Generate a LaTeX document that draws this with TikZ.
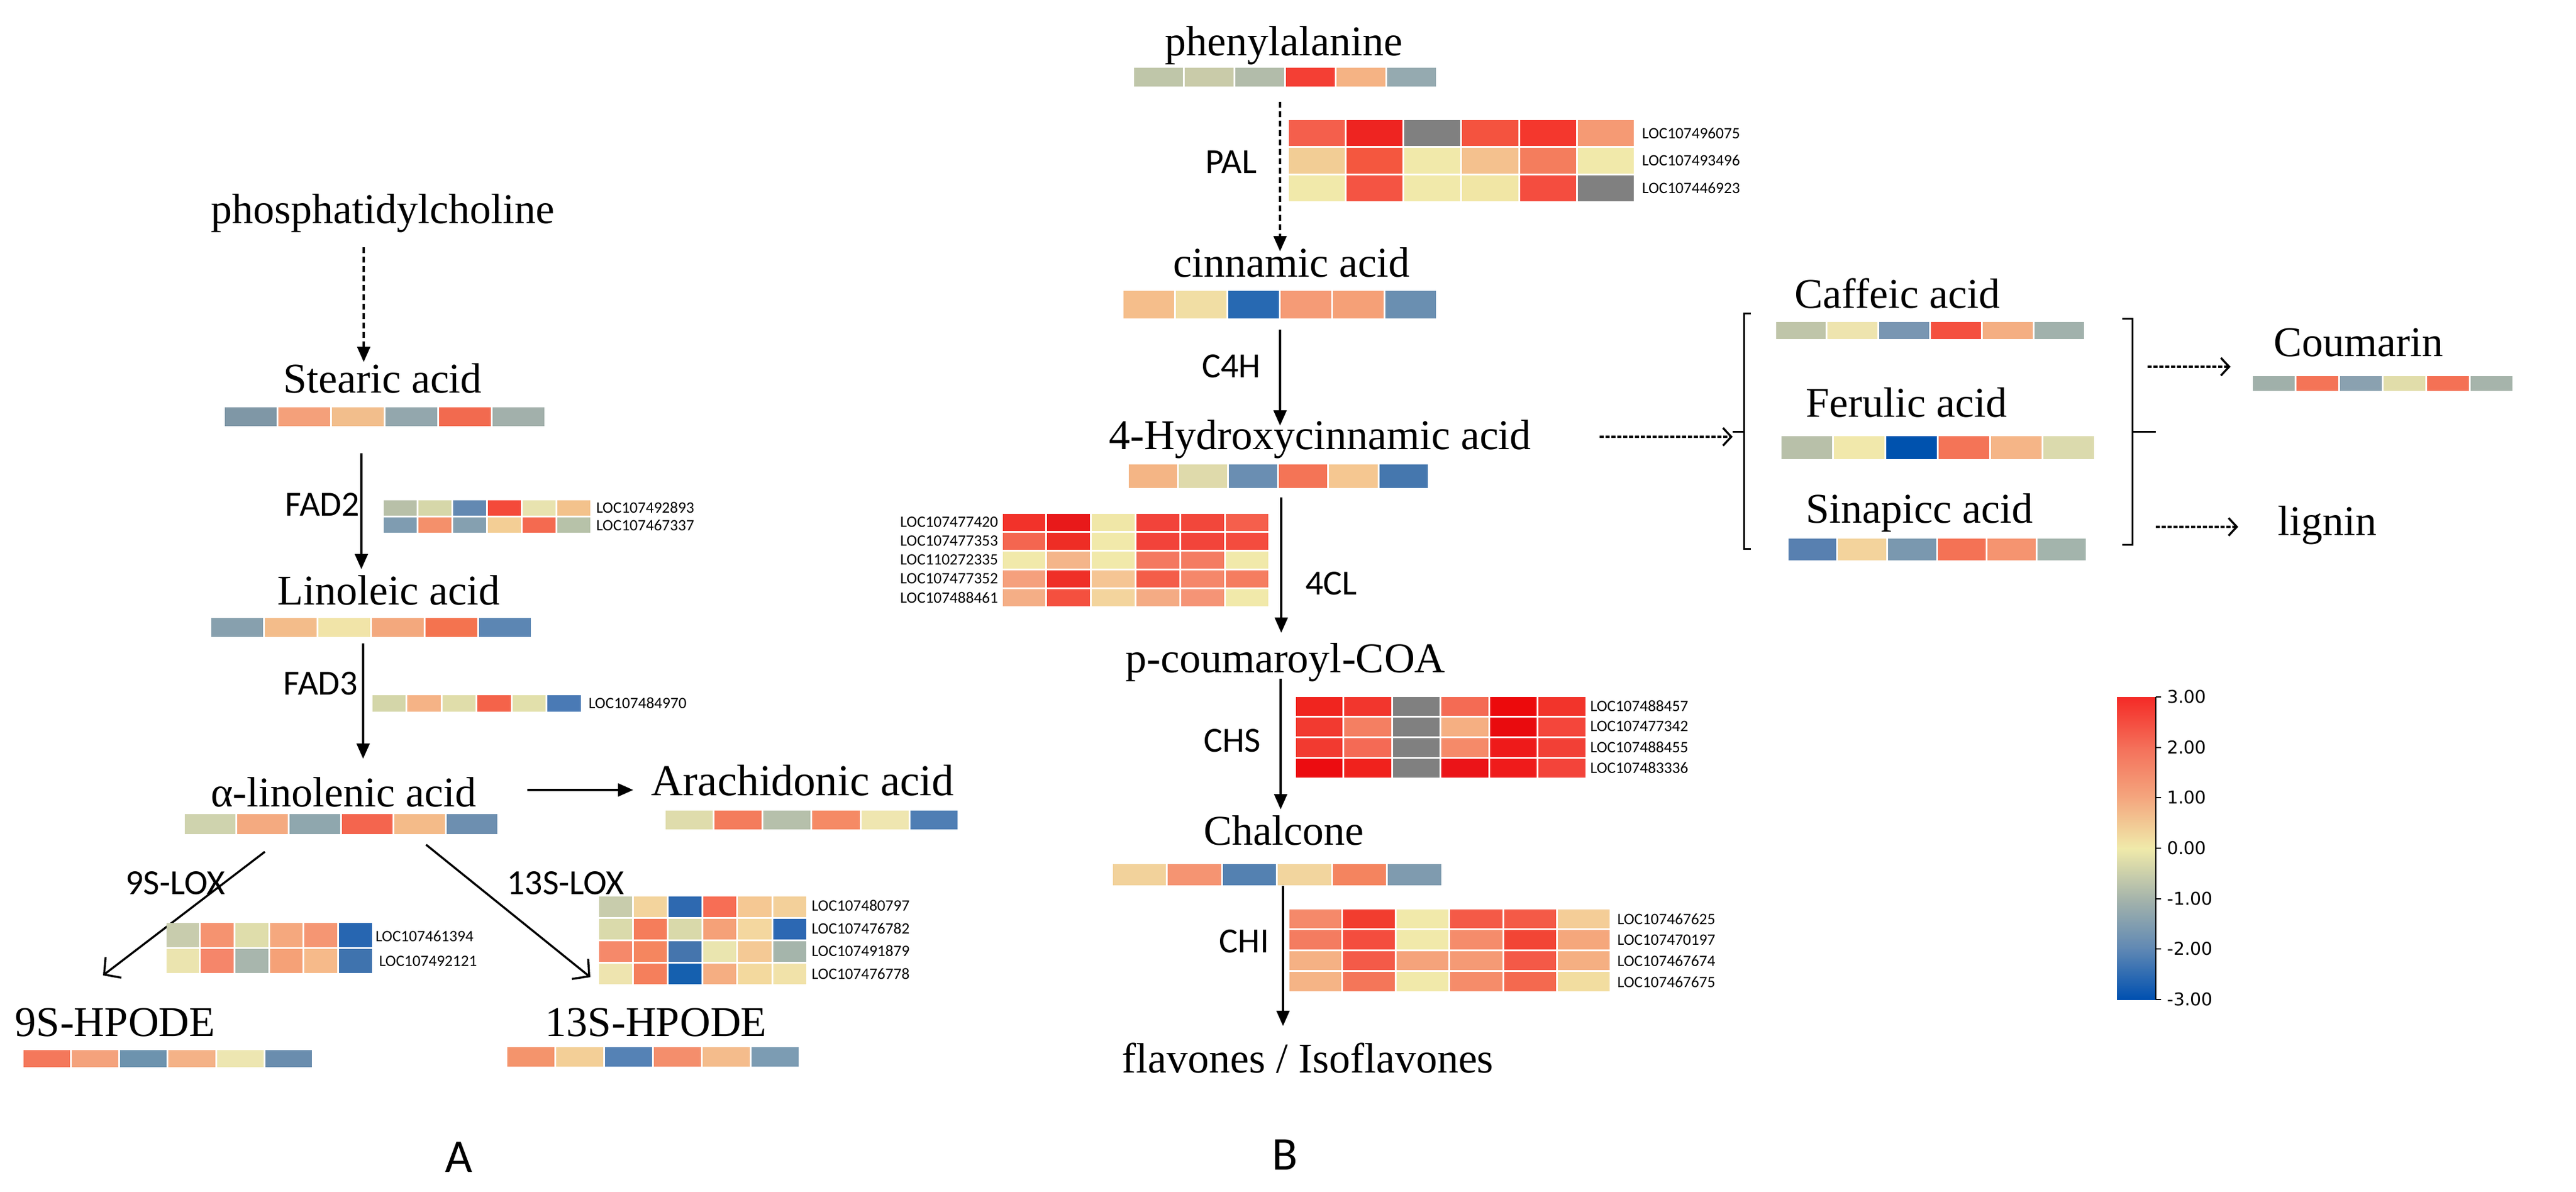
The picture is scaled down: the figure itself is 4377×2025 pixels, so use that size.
\documentclass[tikz,border=0pt]{standalone}
\usepackage{fontspec}
\setmainfont{Liberation Serif}
\newfontfamily\sansf{Carlito}
\newfontfamily\cbf{DejaVu Sans}
\usetikzlibrary{arrows.meta}
\newcommand\hmrow[5]{%
  \foreach \hc [count=\hi from 0] in {#5}{%
    \edef\hmtmp{\noexpand\definecolor{hmc}{HTML}{\hc}}\hmtmp
    \fill[hmc] ({#1+\hi*(#3)+1.5},{#2+1.5}) rectangle ({#1+(\hi+1)*(#3)-1.5},{#2+#4-1.5});
  }%
}
\definecolor{cA}{HTML}{F42A26}
\definecolor{cB}{HTML}{F4705A}
\definecolor{cC}{HTML}{F4A67E}
\definecolor{cD}{HTML}{F0EAAA}
\definecolor{cE}{HTML}{A5B4AB}
\definecolor{cF}{HTML}{5F88B4}
\definecolor{cG}{HTML}{0050B0}
\tikzset{
  met/.style={font=\fontsize{72}{80}\selectfont, inner sep=0pt, anchor=base},
  enz/.style={font=\sansf\fontsize{60}{66}\selectfont, inner sep=0pt},
  loc/.style={font=\sansf\fontsize{27}{30}\selectfont, inner sep=0pt, anchor=west},
  panel/.style={font=\sansf\fontsize{80}{88}\selectfont, inner sep=0pt},
  cbl/.style={font=\cbf\fontsize{30}{33}\selectfont, inner sep=0pt, anchor=west},
  arr/.style={line width=3.5pt, -{Triangle[length=26pt,width=22pt]}},
  darr/.style={arr, dash pattern=on 10pt off 6pt},
  lox/.style={line width=3.5pt, -{Straight Barb[length=20pt,width=44pt]}},
  odash/.style={line width=3.5pt, dash pattern=on 7pt off 3pt, -{Straight Barb[length=14pt,width=30pt]}},
}
\begin{document}
\begin{tikzpicture}[x=1pt,y=-1pt]
\fill[white] (0,0) rectangle (4377,2025);
\useasboundingbox (0,0) rectangle (4377,2025);

% ================= Panel A =================
\node[met] (phos) at (650,380) {phosphatidylcholine};
\node[met] (stear) at (650,667) {Stearic acid};
\hmrow{380}{690}{91}{35}{7F97A6,F4A07A,F2BE8C,93A7AD,F26A4F,A2B0AB}
\coordinate (a1s) at (618,420); \coordinate (a1e) at (618,615);
\draw[darr] (a1s) -- (a1e);

\coordinate (a2s) at (614,770); \coordinate (a2e) at (614,967);
\draw[arr] (a2s) -- (a2e);
\node[enz] (fad2) at (548,857) {FAD2};
\hmrow{650}{848}{59}{29}{B8C0A8,D6D7A9,6389B2,F44A3A,E8E3AF,F3C28C}
\hmrow{650}{877}{59}{29}{7F9CB1,F4906B,85A0B0,F3CE95,F46A50,B7C2A9}
\node[loc] (g1) at (1013,862) {LOC107492893};
\node[loc] (g2) at (1013,892) {LOC107467337};

\node[met] (linol) at (660,1027) {Linoleic acid};
\hmrow{357}{1048}{91}{35}{87A0AE,F3BC8A,F1E4A8,F3A87D,F4734F,5C86B3}

\coordinate (a3s) at (617,1093); \coordinate (a3e) at (617,1289);
\draw[arr] (a3s) -- (a3e);
\node[enz] (fad3) at (545,1161) {FAD3};
\hmrow{631}{1179}{59.5}{31}{D4D6A9,F5B386,E0DDAA,F4634A,E2E0AB,4A7AB5}
\node[loc] (g3) at (1000,1194) {LOC107484970};

\node[met] (alin) at (584,1370) {α-linolenic acid};
\hmrow{312}{1381}{89}{37}{CFD3AE,F4AA80,8FA7AE,F4654E,F4BB89,6D8FB0}

\coordinate (a4s) at (896,1342); \coordinate (a4e) at (1076,1342);
\draw[arr] (a4s) -- (a4e);
\node[font=\fontsize{75}{82}\selectfont, inner sep=0pt, anchor=base] (arach) at (1364,1351) {Arachidonic acid};
\hmrow{1129}{1375}{83.3}{35}{DFDCAC,F47C5C,B6C0AB,F58A65,EFE6B0,4F7EB4}

\coordinate (a5s) at (450,1447); \coordinate (a5e) at (175,1657);
\draw[lox] (a5s) -- (a5e);
\coordinate (a6s) at (724,1435); \coordinate (a6e) at (1003,1660);
\draw[lox] (a6s) -- (a6e);
\node[enz] (lox9) at (298,1500) {9S-LOX};
\node[enz] (lox13) at (961,1500) {13S-LOX};

\hmrow{281}{1566}{58.7}{44}{C8CCAD,F59370,DFDDAB,F5A87E,F59673,2766B1}
\hmrow{281}{1610}{58.7}{44}{EBE4AF,F5866A,A8B6AD,F5A177,F6BA8A,3F73AE}
\node[loc] (g4) at (638,1590) {LOC107461394};
\node[loc] (g5) at (644,1633) {LOC107492121};

\hmrow{1016}{1521}{59.2}{38}{C8CCAC,F3D49D,2E69B0,F76E55,F5C893,F3D09A}
\hmrow{1016}{1559}{59.2}{38}{DADAAB,F57D5B,D9D9AA,F5A178,F4D79F,2C68B3}
\hmrow{1016}{1597}{59.2}{38}{F5896A,F5865F,4575AD,EAE5AF,F4C995,A5B5AB}
\hmrow{1016}{1635}{59.2}{38}{EEE4AF,F57F5C,1560AF,F5AE82,F3D99E,F1E2A9}
\node[loc] (g6) at (1379,1538) {LOC107480797};
\node[loc] (g7) at (1379,1577) {LOC107476782};
\node[loc] (g8) at (1379,1615) {LOC107491879};
\node[loc] (g9) at (1379,1654) {LOC107476778};

\node[met] (hp9) at (196,1760) {9S-HPODE};
\hmrow{38}{1782}{82.3}{32}{F4785B,F4A27C,6D93AE,F4B287,EDE6B1,6A8DAE}
\node[met] (hp13) at (1115,1760) {13S-HPODE};
\hmrow{860}{1777}{83}{36}{F4946C,F3CF97,5582B5,F48E6C,F4BC8C,7C9CB3}

\node[panel] (pA) at (780,1966) {A};

% ================= Panel B =================
\node[met] (phe) at (2181,95) {phenylalanine};
\hmrow{1925}{114}{86}{35}{BFC6A9,C9CBA9,B2BCAA,F43F34,F5B384,95AAB0}
\coordinate (b1s) at (2175,173); \coordinate (b1e) at (2175,427);
\draw[darr] (b1s) -- (b1e);
\node[enz] (pal) at (2092,275) {PAL};
\hmrow{2188}{203}{98.3}{46.7}{F45F4C,EE2421,808080,F4533F,F4372D,F59A74}
\hmrow{2188}{249.7}{98.3}{46.7}{F2CD95,F4573F,F1E9AA,F4C18E,F47D5D,F1E9AA}
\hmrow{2188}{296.4}{98.3}{46.7}{F1E9AA,F45443,F1E9AA,F1E6A5,F44D3F,808080}
\node[loc] (p1) at (2790,226) {LOC107496075};
\node[loc] (p2) at (2790,272) {LOC107493496};
\node[loc] (p3) at (2790,319) {LOC107446923};

\node[met] (cin) at (2194,470) {cinnamic acid};
\hmrow{1907}{492}{89}{50}{F5BE8B,F1DEA4,2769B2,F59B76,F5A077,6A8FB1}
\coordinate (b2s) at (2175,560); \coordinate (b2e) at (2175,723);
\draw[arr] (b2s) -- (b2e);
\node[enz] (c4h) at (2092,622) {C4H};

\node[met] (hyd) at (2243,763) {4-Hydroxycinnamic acid};
\hmrow{1916}{787}{85.2}{43}{F4B585,DFDAAB,6A8EB2,F47456,F5C791,4577AE}

\coordinate (b3s) at (2718,742); \coordinate (b3e) at (2944,742);
\draw[odash] (b3s) -- (b3e);

\coordinate (b4s) at (2177,845); \coordinate (b4e) at (2177,1075);
\draw[arr] (b4s) -- (b4e);
\node[enz] (fcl) at (2262,991) {4CL};
\hmrow{1702}{871}{75.8}{32}{F2322A,E8191A,F0E7A7,F2433A,F2473B,F55F4C}
\hmrow{1702}{903}{75.8}{32}{F46650,EE2D25,F1E9AA,F2433A,F2443A,F44C3E}
\hmrow{1702}{935}{75.8}{32}{F1E9AA,F4B58A,F1E9AA,F47860,F47C62,F1E9AA}
\hmrow{1702}{967}{75.8}{32}{F5A07D,EF2F27,F5C594,F45D49,F5876A,F57D60}
\hmrow{1702}{999}{75.8}{32}{F4AE86,F4503F,F3D49D,F4AB84,F59476,F1E9AA}
\node[loc,anchor=east] (q1) at (1696,887) {LOC107477420};
\node[loc,anchor=east] (q2) at (1696,919) {LOC107477353};
\node[loc,anchor=east] (q3) at (1696,951) {LOC110272335};
\node[loc,anchor=east] (q4) at (1696,983) {LOC107477352};
\node[loc,anchor=east] (q5) at (1696,1015) {LOC107488461};

\node[met] (pcou) at (2184,1142) {p-coumaroyl-COA};
\coordinate (b5s) at (2176,1153); \coordinate (b5e) at (2176,1375);
\draw[arr] (b5s) -- (b5e);
\node[enz] (chs) at (2094,1258) {CHS};
\hmrow{2200}{1182}{82.5}{35}{F0251F,F2362D,808080,F46B54,EC0A0C,F2342B}
\hmrow{2200}{1217}{82.5}{35}{F23A30,F47F62,808080,F5AF82,E90B0E,F4463B}
\hmrow{2200}{1252}{82.5}{35}{F23A30,F46A55,808080,F58A69,EE1A1A,F24036}
\hmrow{2200}{1287}{82.5}{35}{EC0C10,F0221D,808080,EB1418,EF1B1B,F3443A}
\node[loc] (r1) at (2702,1199) {LOC107488457};
\node[loc] (r2) at (2702,1234) {LOC107477342};
\node[loc] (r3) at (2702,1269) {LOC107488455};
\node[loc] (r4) at (2702,1304) {LOC107483336};

\node[met] (chal) at (2181,1435) {Chalcone};
\hmrow{1889}{1466}{93.5}{39}{F2D29B,F59472,5481B1,F2D59E,F4845F,7F9BAF}
\coordinate (b6s) at (2180,1505); \coordinate (b6e) at (2180,1743);
\draw[arr] (b6s) -- (b6e);
\node[enz] (chi) at (2114,1599) {CHI};
\hmrow{2189}{1543}{91.3}{35.5}{F5896A,F23D2F,F1E9AA,F45A47,F45A47,F4CD97}
\hmrow{2189}{1578.5}{91.3}{35.5}{F47C60,F44D3E,F1E9AA,F58C6B,F24535,F5A77C}
\hmrow{2189}{1614}{91.3}{35.5}{F5B184,F45A48,F5A37B,F59A75,F45947,F5AF82}
\hmrow{2189}{1649.5}{91.3}{35.5}{F5B486,F47659,F1E9AA,F58C6A,F4694F,F2DDA0}
\node[loc] (s1) at (2748,1561) {LOC107467625};
\node[loc] (s2) at (2748,1597) {LOC107470197};
\node[loc] (s3) at (2748,1632) {LOC107467674};
\node[loc] (s4) at (2748,1668) {LOC107467675};

\node[met] (flav) at (2222,1822) {flavones / Isoflavones};
\node[panel] (pB) at (2183,1962) {B};

% ----- right group -----
\node[met] (caf) at (3224,523) {Caffeic acid};
\hmrow{3016}{545}{87.8}{32}{BFC5A9,EEE4AE,7996B2,F4503F,F4AE82,A1B1AC}
\node[met] (fer) at (3239,708) {Ferulic acid};
\hmrow{3025}{739}{89}{42}{B8C0A9,F1E8AB,0052AE,F47457,F5B587,DBDAAD}
\node[met] (sin) at (3261,888) {Sinapicc acid};
\hmrow{3037}{913}{84.7}{40}{5880B0,F3D39C,7A98AF,F47255,F59470,A3B4AC}

\coordinate (lbt) at (2975,532); \coordinate (lbb) at (2975,932);
\coordinate (lbm) at (2944,733);
\draw[line width=3pt] (lbt) -- (2963,532) -- (2963,733) -- (lbm) (2963,733) -- (2963,932) -- (lbb);
\coordinate (rbt) at (3606,541); \coordinate (rbb) at (3606,925);
\coordinate (rbm) at (3663,733);
\draw[line width=3pt] (rbt) -- (3623,541) -- (3623,733) -- (rbm) (3623,733) -- (3623,925) -- (rbb);

\coordinate (c1s) at (3649,623); \coordinate (c1e) at (3790,623);
\draw[odash] (c1s) -- (c1e);
\node[met] (cou) at (4007,605) {Coumarin};
\hmrow{3826}{637}{74}{28}{A0B0AA,F47457,8AA1B0,E1DDAA,F47155,A6B4AB}

\coordinate (c2s) at (3663,895); \coordinate (c2e) at (3803,895);
\draw[odash] (c2s) -- (c2e);
\node[met] (lig) at (3954,909) {lignin};

% ----- colour bar -----
\shade[top color=cA, bottom color=cB] (3597,1184) rectangle (3663,1270.5);
\shade[top color=cB, bottom color=cC] (3597,1270) rectangle (3663,1355.5);
\shade[top color=cC, bottom color=cD] (3597,1355) rectangle (3663,1441.5);
\shade[top color=cD, bottom color=cE] (3597,1441) rectangle (3663,1527.5);
\shade[top color=cE, bottom color=cF] (3597,1527) rectangle (3663,1612.5);
\shade[top color=cF, bottom color=cG] (3597,1612) rectangle (3663,1698);
\coordinate (axt) at (3663,1184); \coordinate (axb) at (3663,1698);
\draw[line width=2.5pt] (axt) -- (axb);
\foreach \yy/\lab [count=\k] in {1184/3.00,1270/2.00,1355/1.00,1441/0.00,1527/-1.00,1612/-2.00,1698/-3.00}{
  \draw[line width=2.5pt] (3663,\yy) -- (3672,\yy);
  \node[cbl] (cb\k) at (3682,\yy) {\lab};
}
\end{tikzpicture}
\end{document}
